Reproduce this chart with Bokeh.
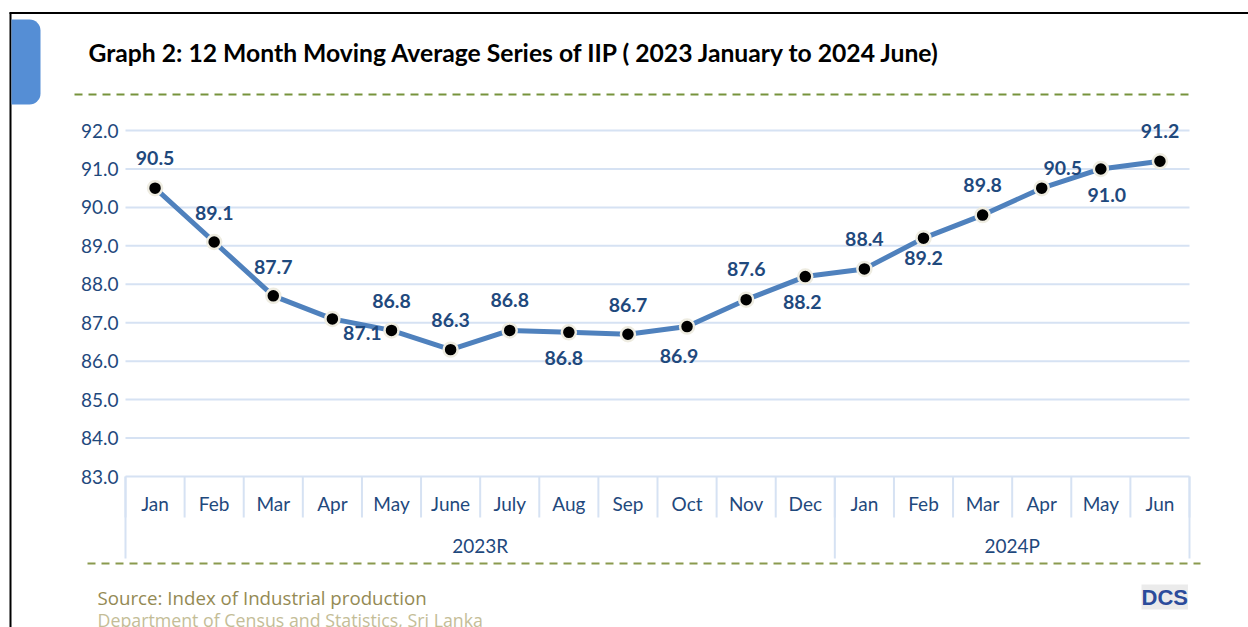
from bokeh.plotting import figure
from bokeh.models import (Range1d, FixedTicker, ColumnDataSource, Label, BoxAnnotation,
                          Arrow, NumeralTickFormatter)
from bokeh.core.properties import value
from bokeh.embed import file_html
from bokeh.resources import INLINE

# ---------------- data ----------------
years = ["2023R"] * 12 + ["2024P"] * 6
months = ["Jan", "Feb", "Mar", "Apr", "May", "June", "July", "Aug", "Sep", "Oct", "Nov", "Dec",
          "Jan", "Feb", "Mar", "Apr", "May", "Jun"]
iip_ma = [90.5, 89.1, 87.7, 87.1, 86.8, 86.3, 86.8, 86.75, 86.7, 86.9, 87.6, 88.2,
          88.4, 89.2, 89.8, 90.5, 91.0, 91.2]
y_ticks = [83.0, 84.0, 85.0, 86.0, 87.0, 88.0, 89.0, 90.0, 91.0, 92.0]
group_names = ["2023R", "2024P"]
title_text = "Graph 2: 12 Month Moving Average Series of IIP ( 2023 January to 2024 June)"
source_text = "Source: Index of Industrial production"
dept_text = "Department of Census and Statistics, Sri Lanka"

# ---------------- style / layout ----------------
label_dx = [0, 0, 0, 30, 0, 0, 0, -5, 0, -8, 0, -3, 0, 0, 0, 21, 6, 0]
label_dy = [-30, -29, -29, 14, -29, -30, -30, 26, -29, 29, -31, 25, -30, 20, -30, -20, 26, -30]

FONT = "Lato"
DARK = "#1F497D"
GRID = "#D6E2F3"
W, H = 1248, 627

n = len(months)
# pixel geometry of the plotting area (the figure frame spans the whole canvas)
area_left, area_right = 125, 1189       # px of x = 0 and x = n
tick_top_px, tick_bottom_px = 130, 476  # px of the highest and lowest y tick
xpx = (area_right - area_left) / n
ypx = (tick_bottom_px - tick_top_px) / (y_ticks[-1] - y_ticks[0])
x_lo = -area_left / xpx
x_hi = n + (W - area_right) / xpx
y_hi = y_ticks[-1] + tick_top_px / ypx
y_lo = y_ticks[0] - (H - tick_bottom_px) / ypx

month_row_y = y_ticks[0] - 27 / ypx
month_sep_end = y_ticks[0] - 41 / ypx
table_bottom = y_ticks[0] - 82 / ypx
year_row_y = y_ticks[0] - 69 / ypx

xs = [i + 0.5 for i in range(n)]
labels = ["{:.1f}".format(v) for v in iip_ma]

p = figure(width=W, height=H, output_backend="svg", toolbar_location=None,
           x_range=Range1d(x_lo, x_hi), y_range=Range1d(y_lo, y_hi),
           x_axis_location=None, min_border=0)
p.outline_line_color = None
p.background_fill_color = "white"
p.border_fill_color = "white"
p.xgrid.visible = False
p.ygrid.visible = False

# y axis: labels drawn just left of the plotting area
p.yaxis.ticker = FixedTicker(ticks=y_ticks)
p.yaxis.formatter = NumeralTickFormatter(format="0.0")
p.yaxis.axis_line_color = None
p.yaxis.major_tick_line_color = None
p.yaxis.minor_tick_line_color = None
p.yaxis.major_tick_in = 0
p.yaxis.major_tick_out = 0
p.yaxis.minor_tick_in = 0
p.yaxis.minor_tick_out = 0
p.yaxis.major_label_standoff = -118
p.yaxis.major_label_text_font = FONT
p.yaxis.major_label_text_font_size = "19px"
p.yaxis.major_label_text_color = DARK

# horizontal grid lines
p.segment(x0=[0] * len(y_ticks), y0=y_ticks, x1=[n] * len(y_ticks), y1=y_ticks,
          line_color=GRID, line_width=2)

# category table under the plot
sep_x = list(range(n + 1))
p.segment(x0=sep_x, y0=[y_ticks[0]] * len(sep_x), x1=sep_x, y1=[month_sep_end] * len(sep_x),
          line_color=GRID, line_width=2)
group_edges = [0]
for i in range(1, n):
    if years[i] != years[i - 1]:
        group_edges.append(i)
group_edges.append(n)
p.segment(x0=group_edges, y0=[y_ticks[0]] * len(group_edges), x1=group_edges,
          y1=[table_bottom] * len(group_edges), line_color=GRID, line_width=2)
p.text(x=xs, y=[month_row_y] * n, text=months, text_align="center", text_baseline="middle",
       text_font=value(FONT), text_font_size="19px", text_color=DARK)
group_centers = [(group_edges[k] + group_edges[k + 1]) / 2 for k in range(len(group_names))]
p.text(x=group_centers, y=[year_row_y] * len(group_names), text=group_names, text_align="center",
       text_baseline="middle", text_font=value(FONT), text_font_size="19px", text_color=DARK)

# series
src = ColumnDataSource(dict(x=xs, y=iip_ma, lab=labels, dx=label_dx, dy=label_dy))
p.line("x", "y", source=src, line_color="#4F81BD", line_width=5)
p.scatter("x", "y", source=src, size=14, fill_color="black", line_color="#EEECE1", line_width=2.5)
p.text("x", "y", text="lab", source=src, x_offset="dx", y_offset="dy", text_align="center",
       text_baseline="middle", text_font=value(FONT), text_font_style="bold",
       text_font_size="19.5px", text_color=DARK)

# decorations (canvas units, all inside the frame)
def box(l, r, t, b, color, **kw):
    return BoxAnnotation(left=l, right=r, top=t, bottom=b, left_units="canvas",
                         right_units="canvas", top_units="canvas", bottom_units="canvas",
                         fill_color=color, fill_alpha=1, line_alpha=0, **kw)

p.add_layout(box(9, W, 11.5, 13.5, "black"))
p.add_layout(box(9, 11, 12, H, "black"))
p.add_layout(box(11, 40, 19, 104, "#558ED5", border_radius=(0, 11, 11, 0)))
p.add_layout(Label(x=88, y=52, x_units="canvas", y_units="canvas", text=title_text,
                   text_baseline="middle", text_font=FONT, text_font_style="bold",
                   text_font_size="24.7px", text_color="black"))
p.add_layout(Arrow(end=None, start=None, x_start=74, y_start=94, x_end=1188, y_end=94,
                   start_units="canvas", end_units="canvas", line_color="#77933C",
                   line_width=2, line_dash="8 6"))
p.add_layout(Arrow(end=None, start=None, x_start=87, y_start=563, x_end=1200, y_end=563,
                   start_units="canvas", end_units="canvas", line_color="#8A9A4E",
                   line_width=2, line_dash="8 6"))
p.add_layout(Label(x=97, y=597, x_units="canvas", y_units="canvas", text=source_text,
                   text_baseline="middle", text_font="Open Sans", text_font_size="18.7px",
                   text_color="#948A54"))
p.add_layout(Label(x=97, y=619, x_units="canvas", y_units="canvas", text=dept_text,
                   text_baseline="middle", text_font="Open Sans", text_font_size="17.8px",
                   text_color="#C4BD97"))
p.add_layout(Label(x=1141, y=584, x_units="canvas", y_units="canvas", text="DCS",
                   text_baseline="top", text_font="Liberation Sans", text_font_style="bold",
                   text_font_size="22px", text_color="#2B4C9B",
                   background_fill_color="#EBEBEB"))

open("out.html", "w").write(file_html(p, INLINE))
